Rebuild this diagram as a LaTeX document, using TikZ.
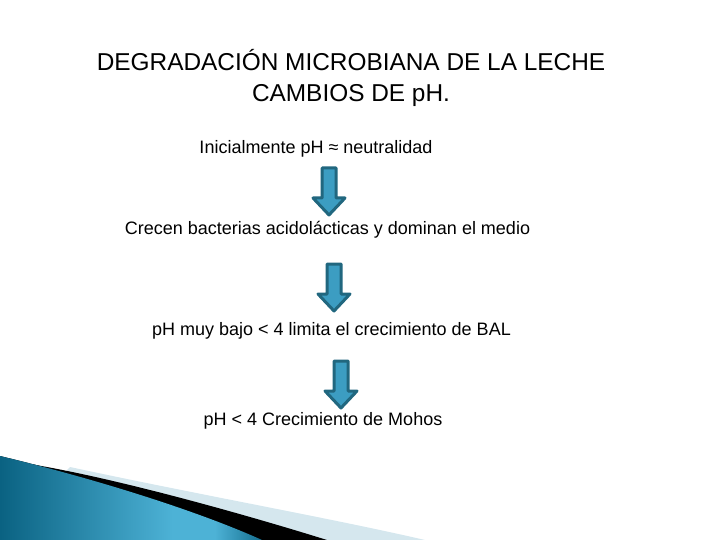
\documentclass[tikz,border=0pt]{standalone}
\usepackage{fontspec}
\setmainfont{Liberation Sans}
\usetikzlibrary{positioning,calc}

\definecolor{arrowline}{HTML}{21677F}
\definecolor{arrowfill}{HTML}{3C9DC2}
\definecolor{wavedark}{HTML}{0A6282}
\definecolor{wavelight}{HTML}{4DB2D6}
\definecolor{waveband}{HTML}{D5E7EE}

\pgfdeclarehorizontalshading{waveshade}{100bp}{color(0bp)=(wavedark); color(25bp)=(wavedark); color(58bp)=(wavelight); color(66bp)=(wavelight); color(75bp)=(wavedark!85!wavelight); color(100bp)=(wavedark!85!wavelight)}

\tikzset{
  titletext/.style={font=\fontsize{24.4}{31}\selectfont, anchor=base, inner sep=0pt},
  steptext/.style={font=\fontsize{18}{22}\selectfont, anchor=base, inner sep=0pt},
  downarrow/.pic={
    \draw[arrowline, line width=3pt, fill=arrowfill, line join=round]
      (-7,0) -- (7,0) -- (7,30) -- (16,30) -- (0,47) -- (-16,30) -- (-7,30) -- cycle;
  }
}

\begin{document}
\begin{tikzpicture}[x=1pt, y=-1pt]
  \useasboundingbox (0,0) rectangle (720,540);

  % corner decoration
  \fill[waveband] (70,467) .. controls (200,495) and (330,518) .. (425,540) -- (0,540) -- cycle;
  \fill[black] (30,464) .. controls (120,479) and (250,516) .. (327,540) -- (0,540) -- cycle;
  \fill[shading=waveshade] (0,456) .. controls (100,480) and (200,512) .. (262,540) -- (0,540) -- cycle;

  % title
  \node[titletext] (titleA) at (351,71) {DEGRADACIÓN MICROBIANA DE LA LECHE};
  \node[titletext] (titleB) at (351,102) {CAMBIOS DE pH.};

  % steps
  \node[steptext] (s1) at (316,154) {Inicialmente pH ≈ neutralidad};
  \node[steptext] (s2) at (327.5,235) {Crecen bacterias acidolácticas y dominan el medio};
  \node[steptext] (s3) at (331.5,335) {pH muy bajo < 4 limita el crecimiento de BAL};
  \node[steptext] (s4) at (323,425) {pH < 4 Crecimiento de Mohos};

  % arrows
  \pic (a1) at (329,168) {downarrow};
  \pic (a2) at (334,264) {downarrow};
  \pic (a3) at (341,361) {downarrow};
\end{tikzpicture}
\end{document}
